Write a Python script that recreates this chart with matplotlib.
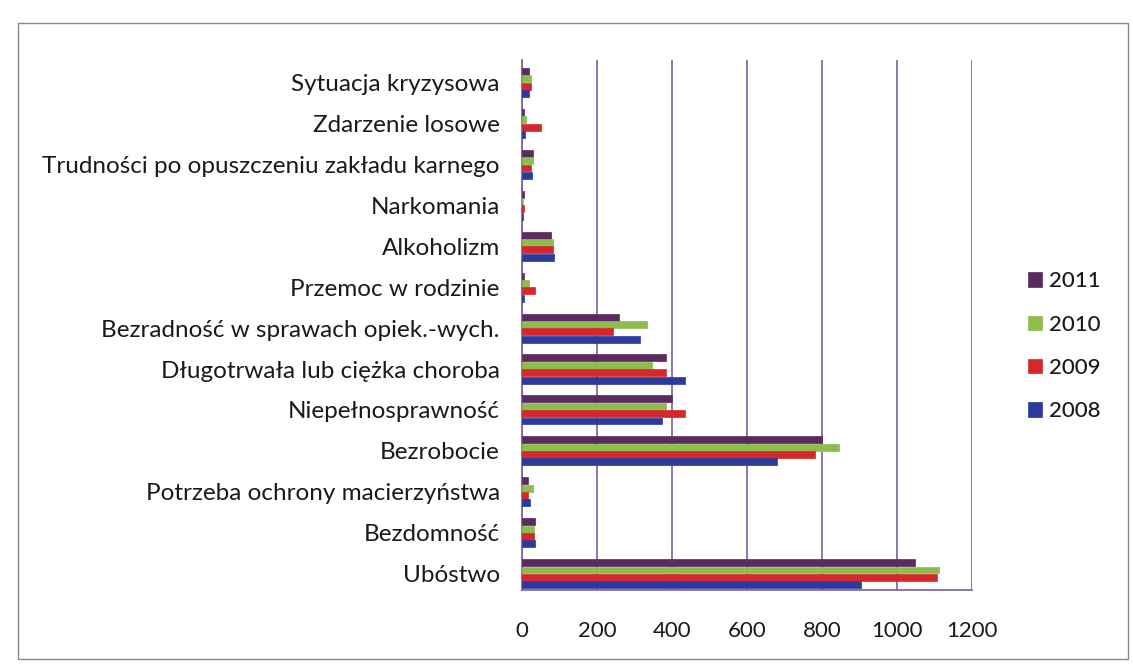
import matplotlib
matplotlib.use("Agg")
import matplotlib.pyplot as plt
import numpy as np

plt.rcParams['font.family'] = ['Lato', 'DejaVu Sans']

categories = ["Ubóstwo", "Bezdomność", "Potrzeba ochrony macierzyństwa", "Bezrobocie",
              "Niepełnosprawność", "Długotrwała lub ciężka choroba",
              "Bezradność w sprawach opiek.-wych.", "Przemoc w rodzinie", "Alkoholizm",
              "Narkomania", "Trudności po opuszczeniu zakładu karnego", "Zdarzenie losowe",
              "Sytuacja kryzysowa"]
years = ["2011", "2010", "2009", "2008"]
v2011 = [1048, 35, 15, 800, 400, 384, 259, 5, 78, 5, 30, 5, 20]
v2010 = [1112, 33, 30, 845, 384, 347, 333, 20, 84, 4, 30, 10, 25]
v2009 = [1107, 33, 15, 781, 435, 384, 243, 35, 84, 5, 25, 50, 25]
v2008 = [904, 36, 22, 680, 373, 435, 315, 5, 85, 4, 28, 8, 20]
values = [v2011, v2010, v2009, v2008]
colors = ["#5b2b5f", "#8dbd4c", "#d6272b", "#2b3a9c"]
xticks = [0, 200, 400, 600, 800, 1000, 1200]

fig = plt.figure(figsize=(11.33, 6.66), dpi=100)
ax = fig.add_axes([0.4607, 0.114, 0.397, 0.796])

y = np.arange(len(categories))
h = 0.17
offsets = [0.27, 0.09, -0.09, -0.27]
for vals, off, c, lab in zip(values, offsets, colors, years):
    ax.barh(y + off, vals, height=h, color=c, edgecolor=c, linewidth=0.5, label=lab, zorder=3)

ax.set_xlim(0, 1200)
ax.set_ylim(-0.4, 12.55)
ax.set_xticks(xticks)
ax.set_xticklabels([str(t) for t in xticks], fontsize=16, color="#1a1a1a")
ax.set_yticks(y)
ax.set_yticklabels(categories, fontsize=17.5, color="#1a1a1a")
ax.tick_params(axis='x', length=0, pad=22)
ax.tick_params(axis='y', length=0, pad=16)
ax.xaxis.grid(True, color="#7a5c9c", linewidth=1.2, zorder=0)
for s in ['top', 'right']:
    ax.spines[s].set_visible(False)
for s in ['left', 'bottom']:
    ax.spines[s].set_color("#7a5c9c")
    ax.spines[s].set_linewidth(1.2)

handles, labels = ax.get_legend_handles_labels()
leg = fig.legend(handles, labels, loc='center left', bbox_to_anchor=(0.89, 0.48),
                 frameon=False, fontsize=16, handlelength=0.6, handleheight=0.6,
                 labelspacing=1.05, handletextpad=0.35)
for t in leg.get_texts():
    t.set_color("#1a1a1a")
    t.set_fontweight("medium")

border = plt.Rectangle((0.016, 0.01), 0.98, 0.955, transform=fig.transFigure,
                       fill=False, edgecolor="#888888", linewidth=1.0)
fig.patches.append(border)

fig.savefig("out.png", dpi=100)
